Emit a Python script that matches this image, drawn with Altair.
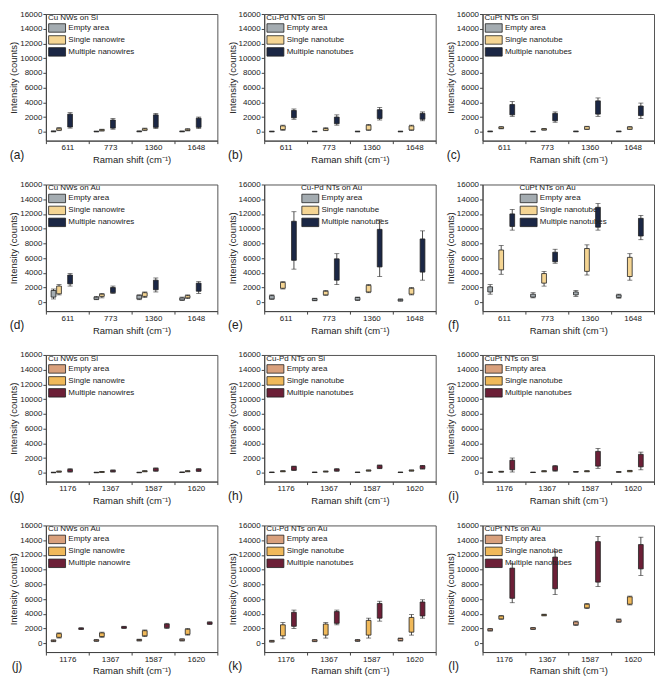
import altair as alt
import pandas as pd

shifts_top = ["611", "773", "1360", "1648"]
shifts_bottom = ["1176", "1367", "1587", "1620"]

colors_top = ["#a4acb1", "#f5d593", "#1b2745"]
colors_bottom = ["#d9a07c", "#f0b95a", "#6c1f37"]

groups_nw = ["Empty area", "Single nanowire", "Multiple nanowires"]
groups_nt = ["Empty area", "Single nanotube", "Multiple nanotubes"]
groups_nw_j = ["Empty area", "Single nanowire", "Multiple nanowire"]

# per group (empty, single, multiple); per Raman shift: (min, q1, q3, max)
a_stats = [
    [(0, 20, 80, 120), (0, 10, 60, 90), (0, 20, 80, 120), (0, 20, 70, 110)],
    [(150, 220, 480, 560), (100, 150, 300, 350), (150, 220, 420, 500), (120, 180, 350, 420)],
    [(500, 650, 2400, 2600), (350, 500, 1600, 1800), (450, 600, 2300, 2500), (450, 600, 1850, 2000)],
]
b_stats = [
    [(0, 10, 60, 90), (0, 10, 50, 80), (0, 10, 60, 90), (0, 10, 60, 90)],
    [(200, 300, 800, 900), (150, 200, 450, 550), (200, 250, 900, 1000), (200, 250, 800, 900)],
    [(1700, 1900, 2900, 3100), (900, 1100, 2000, 2300), (1600, 1800, 3000, 3300), (1500, 1700, 2500, 2700)],
]
c_stats = [
    [(0, 20, 70, 100), (0, 10, 50, 80), (0, 20, 70, 100), (0, 20, 70, 100)],
    [(400, 450, 650, 700), (220, 250, 400, 450), (300, 350, 700, 750), (300, 350, 650, 700)],
    [(2100, 2300, 3700, 4100), (1300, 1500, 2500, 2700), (2100, 2400, 4200, 4600), (1800, 2200, 3500, 3900)],
]
d_stats = [
    [(450, 700, 1600, 1800), (350, 400, 700, 800), (350, 450, 950, 1000), (250, 300, 600, 700)],
    [(1000, 1150, 2200, 2400), (600, 800, 1100, 1200), (650, 800, 1300, 1400), (500, 600, 900, 1000)],
    [(2200, 2500, 3700, 3900), (1200, 1300, 2000, 2200), (1400, 1700, 3000, 3300), (1200, 1500, 2600, 2800)],
]
e_stats = [
    [(400, 450, 900, 1000), (200, 250, 500, 550), (250, 300, 650, 700), (150, 200, 400, 450)],
    [(1800, 1900, 2700, 2800), (950, 1000, 1500, 1600), (1300, 1400, 2300, 2400), (1000, 1100, 1900, 2000)],
    [(4500, 5700, 11000, 12300), (2400, 3000, 5900, 6600), (3500, 4800, 9900, 11200), (3000, 4100, 8600, 9700)],
]
f_stats = [
    [(1100, 1400, 2100, 2400), (600, 700, 1100, 1300), (800, 1000, 1400, 1600), (550, 650, 1000, 1100)],
    [(3800, 4400, 7100, 7700), (2200, 2600, 3900, 4200), (3700, 4200, 7300, 7800), (3000, 3500, 6100, 6600)],
    [(9800, 10300, 12000, 12600), (5300, 5500, 6800, 7200), (9800, 10200, 12900, 13400), (8500, 9000, 11400, 11800)],
]
g_stats = [
    [(0, 10, 50, 70), (0, 10, 50, 70), (0, 10, 50, 70), (20, 30, 80, 100)],
    [(80, 100, 200, 230), (40, 60, 150, 180), (130, 150, 250, 280), (130, 150, 250, 280)],
    [(80, 150, 450, 550), (100, 130, 330, 380), (200, 250, 600, 650), (180, 220, 500, 550)],
]
h_stats = [
    [(20, 30, 70, 90), (20, 30, 70, 90), (20, 30, 70, 90), (20, 30, 70, 90)],
    [(130, 150, 250, 280), (100, 120, 200, 230), (220, 250, 350, 380), (220, 250, 350, 380)],
    [(300, 350, 850, 900), (200, 250, 500, 550), (550, 600, 1000, 1050), (500, 550, 950, 1000)],
]
i_stats = [
    [(30, 50, 100, 120), (20, 30, 60, 80), (80, 100, 150, 170), (60, 80, 130, 150)],
    [(80, 100, 180, 200), (120, 150, 250, 280), (130, 150, 250, 280), (130, 150, 300, 330)],
    [(100, 400, 1700, 2000), (200, 300, 900, 1000), (600, 900, 2900, 3300), (400, 800, 2500, 2800)],
]
j_stats = [
    [(200, 250, 400, 450), (250, 300, 450, 500), (300, 350, 500, 550), (300, 350, 550, 600)],
    [(700, 800, 1300, 1400), (800, 900, 1400, 1500), (900, 1000, 1700, 1800), (1100, 1200, 1900, 2000)],
    [(1850, 1900, 2050, 2100), (2000, 2050, 2250, 2300), (2000, 2100, 2600, 2700), (2550, 2600, 2850, 2900)],
]
k_stats = [
    [(150, 200, 350, 400), (200, 250, 450, 500), (250, 300, 450, 500), (300, 350, 650, 700)],
    [(600, 1000, 2500, 2800), (700, 1100, 2600, 2800), (700, 1100, 3100, 3400), (1100, 1500, 3500, 3900)],
    [(2000, 2300, 4200, 4500), (2500, 2700, 4300, 4500), (3000, 3400, 5400, 5700), (3400, 3700, 5600, 5900)],
]
l_stats = [
    [(1650, 1700, 1950, 2000), (1850, 1900, 2100, 2150), (2400, 2500, 2900, 3000), (2850, 2900, 3200, 3300)],
    [(3250, 3300, 3700, 3750), (3700, 3750, 3900, 3950), (4700, 4800, 5300, 5400), (5200, 5300, 6300, 6400)],
    [(5500, 6100, 10200, 10800), (6600, 7400, 11700, 12500), (7700, 8300, 13800, 14500), (9200, 10100, 13400, 14400)],
]

panel_specs = [
    ("(a)", "Cu NWs on Si", shifts_top, groups_nw, a_stats, colors_top, 2),
    ("(b)", "Cu-Pd NTs on Si", shifts_top, groups_nt, b_stats, colors_top, 2),
    ("(c)", "CuPt NTs on Si", shifts_top, groups_nt, c_stats, colors_top, 2),
    ("(d)", "Cu NWs on Au", shifts_top, groups_nw, d_stats, colors_top, 2),
    ("(e)", "Cu-Pd NTs on Au", shifts_top, groups_nt, e_stats, colors_top, 37),
    ("(f)", "CuPt NTs on Au", shifts_top, groups_nt, f_stats, colors_top, 37),
    ("(g)", "Cu NWs on Si", shifts_bottom, groups_nw, g_stats, colors_bottom, 2),
    ("(h)", "Cu-Pd NTs on Si", shifts_bottom, groups_nt, h_stats, colors_bottom, 2),
    ("(i)", "CuPt NTs on Si", shifts_bottom, groups_nt, i_stats, colors_bottom, 2),
    ("(j)", "Cu NWs on Au", shifts_bottom, groups_nw_j, j_stats, colors_bottom, 2),
    ("(k)", "Cu-Pd NTs on Au", shifts_bottom, groups_nt, k_stats, colors_bottom, 2),
    ("(l)", "CuPt NTs on Au", shifts_bottom, groups_nt, l_stats, colors_bottom, 2),
]

W = 172
H = 127
INK = "#222222"


def panel(letter, title, shifts, groups, stats, colors, legend_x):
    rows = []
    for gi, g in enumerate(groups):
        for ci, s in enumerate(shifts):
            mn, q1, q3, mx = stats[gi][ci]
            rows.append(dict(shift=s, group=g, mn=mn, q1=q1, q3=q3, mx=mx))
    df = pd.DataFrame(rows)

    xaxis = alt.Axis(
        title="Raman shift (cm\u207b\u00b9)", labelAngle=0, tickBand="extent",
        tickSize=3, labelPadding=0, titleY=19, titleBaseline="middle",
    )
    yaxis = alt.Axis(
        title="Intensity (counts)", values=list(range(0, 16001, 2000)),
        format="d", tickSize=3, labelPadding=1, titleX=-32, titleY=H / 2,
        titleAngle=270, titleAlign="center", titleBaseline="middle",
    )
    xs = alt.Scale(paddingInner=0, paddingOuter=0)
    ys = alt.Scale(domain=[-1200, 16000], nice=False, zero=False)
    xo = alt.XOffset("group:N", sort=groups,
                     scale=alt.Scale(paddingInner=0.14, paddingOuter=0.95))
    X = alt.X("shift:N", sort=shifts, scale=xs, axis=xaxis)

    base = alt.Chart(df)
    whisk = base.mark_rule(color=INK, strokeWidth=0.8).encode(
        x=X, xOffset=xo, y=alt.Y("mn:Q", scale=ys, axis=yaxis), y2="mx:Q")
    cap_lo = base.mark_tick(color=INK, size=5, thickness=0.8).encode(
        x=X, xOffset=xo, y=alt.Y("mn:Q", scale=ys, axis=yaxis))
    cap_hi = base.mark_tick(color=INK, size=5, thickness=0.8).encode(
        x=X, xOffset=xo, y=alt.Y("mx:Q", scale=ys, axis=yaxis))
    box = base.mark_bar(stroke=INK, strokeWidth=0.8).encode(
        x=X, xOffset=xo,
        y=alt.Y("q1:Q", scale=ys, axis=yaxis), y2="q3:Q",
        color=alt.Color(
            "group:N", sort=groups,
            scale=alt.Scale(domain=groups, range=colors),
            legend=alt.Legend(
                title=title, orient="none", legendX=legend_x, legendY=0,
                symbolType="M-1,-1H3V1H-1Z", symbolSize=72,
                symbolStrokeColor=INK, symbolStrokeWidth=0.8, symbolOpacity=1,
                labelOffset=10.5, rowPadding=0, titlePadding=1, padding=0,
            ),
        ),
    )
    lab = alt.Chart(pd.DataFrame({"t": [letter]})).mark_text(
        fontSize=12, color=INK, align="center", baseline="middle"
    ).encode(text="t:N", x=alt.value(-29), y=alt.value(H + 14))
    return alt.layer(whisk, cap_lo, cap_hi, box, lab).properties(width=W, height=H)


panels = [panel(*p) for p in panel_specs]

chart = alt.concat(
    *panels, columns=3, spacing={"row": 44, "column": 47}, bounds="flush"
).resolve_scale(
    color="independent"
).properties(padding=0).configure(
    font="Liberation Sans"
).configure_view(
    stroke="#555555", strokeWidth=1
).configure_axis(
    grid=False, domainColor="#444444", tickColor="#444444",
    labelColor=INK, titleColor=INK, labelFontSize=8,
    titleFontSize=9.5, titleFontWeight="normal",
).configure_legend(
    titleFontSize=8, titleFontWeight="normal", titleColor=INK,
    labelFontSize=8, labelColor=INK,
)

chart.save("out.html", embed_options={"renderer": "svg", "actions": False})
